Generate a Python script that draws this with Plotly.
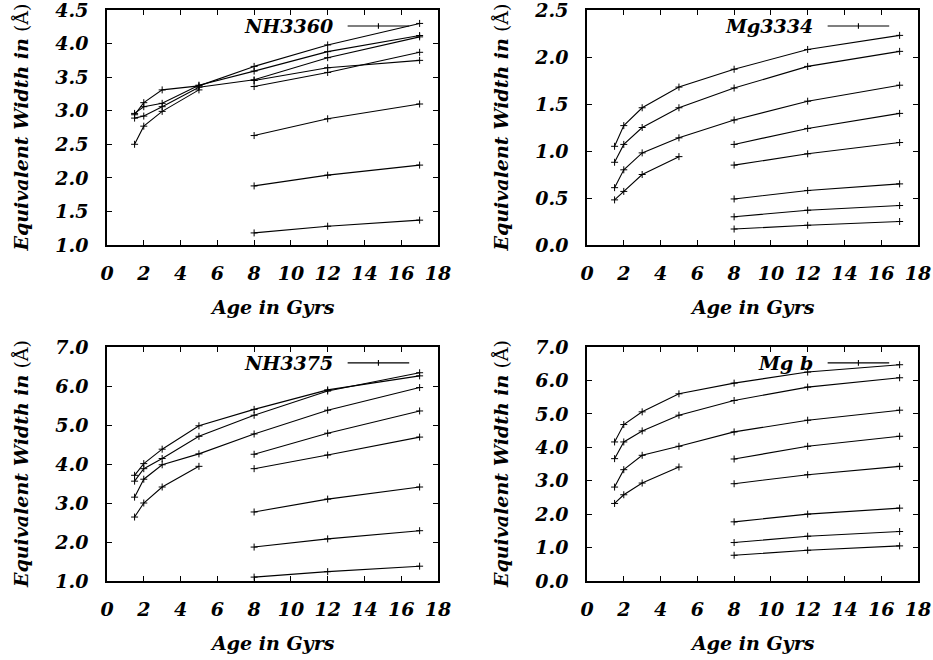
import plotly.graph_objects as go

# ---------------- data ----------------
AGE_FULL = [1.5, 2, 3, 5, 8, 12, 17]
AGE_YOUNG = [1.5, 2, 3, 5]
AGE_OLD = [8, 12, 17]

NH3360_FULL = [
    [2.94, 3.12, 3.31, 3.37, 3.66, 3.98, 4.30],
    [2.96, 3.06, 3.11, 3.38, 3.59, 3.88, 4.12],
    [2.89, 2.92, 3.06, 3.35, 3.46, 3.79, 4.10],
]
NH3360_YOUNG = [2.50, 2.77, 2.99, 3.31]
NH3360_OLD = [
    [3.45, 3.64, 3.75],
    [3.36, 3.57, 3.87],
    [2.63, 2.88, 3.10],
    [1.88, 2.04, 2.19],
    [1.18, 1.28, 1.37],
]

MG3334_FULL = [
    [1.05, 1.27, 1.46, 1.68, 1.87, 2.08, 2.23],
    [0.88, 1.07, 1.25, 1.46, 1.67, 1.90, 2.06],
    [0.61, 0.80, 0.98, 1.14, 1.33, 1.53, 1.70],
]
MG3334_YOUNG = [0.48, 0.57, 0.75, 0.94]
MG3334_OLD = [
    [1.07, 1.24, 1.40],
    [0.85, 0.97, 1.09],
    [0.49, 0.58, 0.65],
    [0.30, 0.37, 0.42],
    [0.17, 0.21, 0.25],
]

NH3375_FULL = [
    [3.71, 4.01, 4.38, 4.98, 5.40, 5.90, 6.26],
    [3.56, 3.88, 4.14, 4.71, 5.25, 5.87, 6.34],
    [3.15, 3.61, 3.98, 4.26, 4.77, 5.38, 5.96],
]
NH3375_YOUNG = [2.64, 3.00, 3.41, 3.94]
NH3375_OLD = [
    [4.25, 4.79, 5.36],
    [3.88, 4.23, 4.69],
    [2.77, 3.10, 3.41],
    [1.87, 2.08, 2.29],
    [1.10, 1.24, 1.38],
]

MGB_FULL = [
    [4.16, 4.68, 5.06, 5.60, 5.92, 6.25, 6.47],
    [3.66, 4.16, 4.49, 4.96, 5.40, 5.80, 6.08],
    [2.81, 3.33, 3.76, 4.03, 4.46, 4.81, 5.11],
]
MGB_YOUNG = [2.32, 2.58, 2.93, 3.41]
MGB_OLD = [
    [3.65, 4.03, 4.33],
    [2.91, 3.18, 3.43],
    [1.77, 2.00, 2.18],
    [1.15, 1.34, 1.48],
    [0.77, 0.92, 1.05],
]

PANEL_NAMES = ["NH3360", "Mg3334", "NH3375", "Mg b"]
PANEL_YRANGES = [[1.0, 4.5], [0.0, 2.5], [1.0, 7.0], [0.0, 7.0]]
PANEL_YDTICK = [0.5, 0.5, 1.0, 1.0]
X_RANGE = [0, 18]
X_DTICK = 2

PANEL_DATA = [
    (NH3360_FULL, NH3360_YOUNG, NH3360_OLD),
    (MG3334_FULL, MG3334_YOUNG, MG3334_OLD),
    (NH3375_FULL, NH3375_YOUNG, NH3375_OLD),
    (MGB_FULL, MGB_YOUNG, MGB_OLD),
]

# ---------------- layout geometry ----------------
W, H = 933, 660


def xdom(a, b):
    return [a / W, b / W]


def ydom(top, bottom):
    return [1 - bottom / H, 1 - top / H]


X_DOMAINS = [xdom(107, 438), xdom(587, 918)]
Y_DOMAINS = [ydom(10, 245), ydom(347, 581)]

FONT = "DejaVu Serif"
FS = 19

fig = go.Figure()
line_style = dict(color="black", width=1.1)
marker_style = dict(symbol="cross-thin", size=5, line=dict(color="black", width=1), color="black")

layout_axes = {}
annotations = []
shapes = []

for i, name in enumerate(PANEL_NAMES):
    row, col = divmod(i, 2)
    n = i + 1
    xa = "x" if n == 1 else f"x{n}"
    ya = "y" if n == 1 else f"y{n}"
    full, young, old = PANEL_DATA[i]
    series = [(AGE_FULL, s) for s in full] + [(AGE_YOUNG, young)] + [(AGE_OLD, s) for s in old]
    for xs, ys in series:
        fig.add_trace(go.Scatter(x=xs, y=ys, mode="lines+markers", line=line_style,
                                 marker=marker_style, xaxis=xa, yaxis=ya,
                                 showlegend=False, hoverinfo="skip"))
    axcommon = dict(showline=True, linecolor="black", linewidth=1.6, mirror="ticks",
                    ticks="inside", ticklen=5, tickwidth=1.2, tickcolor="black",
                    showgrid=False, zeroline=False, automargin=False,
                    ticklabeloverflow="allow",
                    tickfont=dict(family=FONT, size=FS, color="black", weight="bold", style="italic"))
    layout_axes[f"xaxis{'' if n == 1 else n}"] = dict(
        domain=X_DOMAINS[col], range=X_RANGE, dtick=X_DTICK, tick0=0,
        anchor=ya, ticklabelstandoff=10, **axcommon)
    layout_axes[f"yaxis{'' if n == 1 else n}"] = dict(
        domain=Y_DOMAINS[row], range=PANEL_YRANGES[i], dtick=PANEL_YDTICK[i], tick0=0,
        tickformat=".1f", anchor=xa, ticklabelstandoff=13, **axcommon)

    xd = f"{xa} domain"
    yd = f"{ya} domain"
    annotations.append(dict(xref=xd, yref=yd, x=0, y=0.5, xshift=-86, textangle=-90,
                            xanchor="center", yanchor="middle", showarrow=False,
                            text="<b><i>Equivalent Width in</i></b> (Å)",
                            font=dict(family=FONT, size=FS, color="black")))
    annotations.append(dict(xref=xd, yref=yd, x=0.5, y=0, yshift=-62,
                            xanchor="center", yanchor="middle", showarrow=False,
                            text="<b><i>Age in Gyrs</i></b>",
                            font=dict(family=FONT, size=FS, color="black")))
    annotations.append(dict(xref=xd, yref=yd, x=0.69, y=0.932, xanchor="right", yanchor="middle",
                            showarrow=False, text=f"<b><i>{name}</i></b>",
                            font=dict(family=FONT, size=FS, color="black")))
    shapes.append(dict(type="line", xref=xd, yref=yd, x0=0.727, x1=0.913, y0=0.932, y1=0.932,
                       line=dict(color="black", width=1.1)))
    shapes.append(dict(type="line", xref=xd, yref=yd, x0=0.82, x1=0.82, y0=0.932 - 0.012,
                       y1=0.932 + 0.012, line=dict(color="black", width=1.1)))

fig.update_layout(
    template="none",
    width=W, height=H, autosize=False,
    margin=dict(l=0, r=0, t=0, b=0, pad=0),
    paper_bgcolor="white", plot_bgcolor="white",
    showlegend=False,
    font=dict(family=FONT, color="black"),
    annotations=annotations, shapes=shapes,
    **layout_axes,
)

fig.write_html("out.html", config={"displayModeBar": False},
               post_script="document.body.style.margin='0px';document.body.style.overflow='hidden';")
